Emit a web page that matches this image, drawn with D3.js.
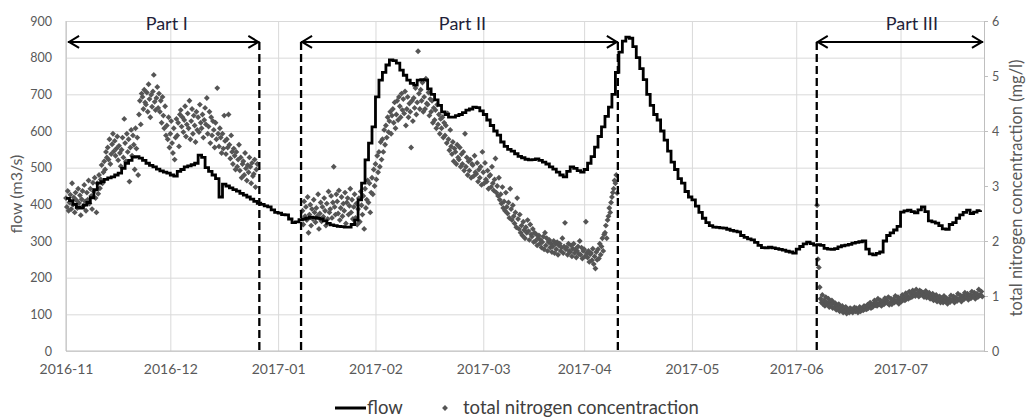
<!DOCTYPE html>
<html><head><meta charset="utf-8">
<script src="https://cdn.jsdelivr.net/npm/d3@7"></script>
<style>
body{margin:0;background:#fff}
text{font-family:Lato,"Open Sans",sans-serif}
</style>
</head><body>
<svg id="chart" width="1029" height="419"></svg>
<script>
// ---- data ----
const monthLabels = ["2016-11","2016-12","2017-01","2017-02","2017-03","2017-04","2017-05","2017-06","2017-07"];
const monthTickDays = [0,30,61,89,120,149,180,210,240];
const flowTicks = [0,100,200,300,400,500,600,700,800,900];
const nitrogenTicks = [0,1,2,3,4,5,6];

// daily flow (m3/s), day 0 = 2016-11-01
const flow = [
416,410,400,392,390,398,405,418,440,458,462,468,472,475,480,485,498,512,520,529,
530,526,520,512,506,502,496,491,488,485,480,477,490,495,502,505,508,512,534,528,
500,490,480,470,420,455,450,445,440,436,430,425,420,414,408,403,400,396,393,385,
378,376,372,371,360,350,352,358,360,362,365,364,362,360,355,348,344,342,340,339,
338,338,345,357,412,458,521,567,611,693,739,760,780,794,792,785,766,752,739,730,
725,739,740,739,715,700,685,670,652,645,638,638,642,645,650,657,660,665,664,655,
645,630,615,600,589,570,558,550,545,538,531,527,523,521,522,524,520,515,510,502,
496,488,480,475,490,502,498,492,488,495,512,530,556,585,611,640,665,700,760,815,
845,856,853,830,800,770,740,700,670,645,630,600,575,545,515,495,470,458,435,420,
412,395,378,362,350,342,338,337,336,335,332,329,327,325,315,310,306,303,296,288,
282,281,283,281,279,277,275,272,270,267,278,285,292,297,293,289,290,288,280,278,
277,279,284,287,289,291,294,296,298,300,278,265,262,266,270,300,315,322,330,340,
379,382,384,380,377,385,393,380,355,352,349,342,333,332,345,350,362,371,378,384,
375,379,383,384];

// total nitrogen concentration (mg/l), 4 samples per day
const nitrogenStep = 0.25;
const nitrogenPart1Start = 0;
const nitrogenPart1 = [
2.78,2.62,2.91,2.55, 2.70,2.84,2.58,3.05, 2.66,2.79,2.52,2.88, 2.74,2.60,2.95,2.69,
2.83,2.47,2.76,2.91, 2.64,3.02,2.72,2.55, 2.88,2.75,3.10,2.68, 2.95,2.82,2.58,3.06,
2.90,3.15,2.78,2.52, 3.05,2.86,3.20,2.96, 3.12,3.38,3.05,3.25, 3.45,3.30,3.62,3.52,
3.70,3.48,3.85,3.40, 3.58,3.76,3.95,3.63, 3.82,3.55,3.68,3.90, 3.47,3.73,3.60,3.36,
3.66,3.88,3.52,4.22, 3.78,3.45,3.95,3.62, 3.85,3.08,3.70,4.02, 3.55,3.92,3.75,3.30,
4.05,3.68,3.88,3.20, 4.30,4.55,4.12,4.68, 4.62,4.40,4.75,4.52, 4.48,4.70,4.35,4.85,
4.58,4.25,4.66,4.44, 4.72,5.02,4.53,4.38, 4.60,4.80,4.42,4.68, 4.35,4.55,4.15,4.62,
4.28,4.05,4.45,3.92, 4.10,3.85,4.25,3.70, 3.95,4.18,3.78,3.60, 4.05,3.48,3.88,4.22,
3.92,4.15,3.72,4.30, 4.38,4.08,4.25,3.98, 4.20,4.45,3.90,4.12, 4.32,4.05,4.55,3.85,
4.18,4.40,3.95,4.28, 4.10,3.80,4.35,4.02, 4.25,3.98,4.48,4.15, 4.05,4.30,3.88,4.20,
4.42,4.12,4.60,3.95, 4.08,4.35,3.78,4.25, 3.92,4.18,4.02,3.70, 4.15,3.85,4.78,3.95,
3.72,4.05,3.88,3.60, 3.95,3.68,4.28,3.82, 3.58,3.85,3.70,4.30, 3.75,3.50,3.92,3.62,
3.40,3.68,3.55,3.30, 3.62,3.35,3.48,3.75, 3.28,3.52,3.15,3.40, 3.45,3.20,3.60,3.32,
3.10,3.38,3.25,3.52, 3.35,3.05,3.42,3.18, 3.22,3.48,2.98,3.30, 3.40];
const nitrogenPart2Start = 68;
const nitrogenPart2 = [
2.55,2.30,2.72,2.45, 2.62,2.38,2.80,2.15, 2.48,2.66,2.28,2.58, 2.40,2.75,2.52,2.34,
2.60,2.45,2.85,2.22, 2.50,2.70,2.36,2.62, 2.44,2.78,2.55,2.28, 2.68,2.40,2.90,2.52,
2.58,2.82,2.42,2.70, 3.35,2.62,2.48,2.85, 2.72,2.50,2.92,2.38, 2.60,2.80,2.45,2.68,
2.55,2.88,2.32,2.70, 2.78,2.48,2.64,2.95, 2.52,2.75,2.40,2.62, 2.85,2.42,2.68,2.30,
2.58,2.78,2.35,2.90, 2.65,2.48,2.82,2.22, 2.95,2.60,2.75,3.10, 2.70,3.05,2.52,2.88,
3.15,2.85,3.30,3.00, 3.40,3.12,3.55,3.25, 3.62,3.35,3.80,3.48, 3.85,3.62,4.02,3.75,
4.10,3.88,4.25,3.98, 4.18,4.35,3.95,4.28, 4.40,4.15,4.52,4.05, 4.30,4.55,4.20,4.62,
4.45,4.25,4.68,4.38, 4.58,4.32,4.72,4.10, 4.40,4.62,4.25,4.50, 4.35,3.70,4.55,4.18,
4.60,4.42,4.78,4.30, 4.52,5.45,4.68,4.40, 4.75,4.55,4.88,4.35, 4.62,4.40,4.95,4.50,
4.48,4.70,4.28,4.58, 4.35,4.55,4.15,4.42, 4.20,4.38,4.05,4.48, 4.12,4.30,3.95,4.22,
4.05,4.25,3.88,4.15, 3.92,4.10,3.78,4.32, 3.85,3.65,4.02,3.72, 3.58,3.80,3.45,3.68,
3.62,3.40,3.75,3.52, 3.48,3.70,3.35,3.58, 3.40,3.62,3.28,3.95, 3.35,3.52,3.20,3.45,
3.28,3.48,3.15,3.40, 3.38,3.18,3.55,3.25, 3.22,3.42,3.08,3.30, 3.15,3.35,3.02,3.62,
3.25,3.05,3.42,3.12, 3.08,3.28,2.95,3.18, 3.20,2.98,3.35,3.05, 2.92,3.12,3.50,2.88,
3.00,2.82,3.15,2.75, 2.85,2.68,2.98,2.60, 2.72,2.55,2.88,2.62, 2.50,2.70,2.42,2.95,
2.58,2.38,2.65,2.45, 2.32,2.52,2.25,2.78, 2.40,2.22,2.48,2.15, 2.28,2.10,2.35,2.20,
2.05,2.25,2.15,2.38, 2.18,2.02,2.30,2.12, 2.08,2.22,1.98,2.15, 2.00,2.12,1.92,2.05,
2.10,1.95,2.02,1.88, 1.98,2.08,1.85,2.15, 1.92,2.05,1.82,1.98, 2.02,1.88,1.95,1.80,
1.90,2.00,1.78,1.95, 1.85,1.98,1.75,1.92, 1.95,1.82,1.88,2.05, 1.78,1.90,2.33,1.85,
1.88,1.75,1.95,1.82, 1.80,1.92,1.72,1.86, 1.95,1.78,1.85,1.70, 1.82,1.90,1.76,2.00,
1.75,1.88,1.68,1.82, 1.85,1.72,2.35,1.78, 1.70,1.82,1.62,1.76, 1.78,1.65,1.86,1.58,
1.72,1.50,1.80,1.66, 1.85,1.68,1.95,1.75, 1.90,2.05,1.82,2.12, 2.15,2.28,2.05,2.38,
2.45,2.60,2.52,2.70, 2.80,2.88,2.95,3.10, 3.05,3.20,2.87];
const nitrogenPart3Start = 216;
const nitrogenPart3 = [
2.65,1.67,1.52,1.16, 0.95,0.88,1.02,0.85, 0.92,0.82,0.98,0.88, 0.86,0.95,0.80,0.90,
0.84,0.92,0.78,0.88, 0.80,0.87,0.75,0.83, 0.78,0.85,0.72,0.80, 0.75,0.82,0.70,0.78,
0.72,0.80,0.68,0.76, 0.74,0.70,0.78,0.72, 0.76,0.70,0.73,0.79, 0.72,0.78,0.74,0.70,
0.75,0.80,0.72,0.77, 0.78,0.74,0.82,0.76, 0.80,0.76,0.84,0.78, 0.82,0.88,0.78,0.85,
0.80,0.86,0.92,0.83, 0.88,0.82,0.95,0.86, 0.85,0.92,0.82,0.89, 0.90,0.85,0.96,0.88,
0.92,0.87,0.98,0.84, 0.88,0.95,0.85,0.92, 0.94,0.88,1.00,0.90, 0.92,0.98,0.86,0.95,
0.96,0.90,1.02,0.93, 0.98,0.92,1.05,0.95, 1.00,0.95,1.08,0.97, 1.04,0.98,1.10,1.01,
1.06,1.00,1.12,1.03, 1.05,0.99,1.10,1.02, 1.08,1.02,1.06,0.98, 1.03,1.09,0.97,1.05,
1.00,1.06,0.95,1.02, 0.97,1.04,0.92,1.00, 0.95,1.02,0.90,0.98, 0.92,0.99,0.88,0.96,
0.94,0.88,1.00,0.91, 0.90,0.96,0.86,0.93, 0.95,0.89,1.01,0.92, 0.93,0.99,0.88,0.96,
0.97,0.91,1.04,0.94, 0.95,1.01,0.90,0.98, 1.00,0.94,1.06,0.97, 0.98,1.04,0.93,1.01,
1.02,0.96,1.08,0.99, 1.00,1.06,0.95,1.03, 1.04,0.98,1.12,1.01, 1.02,1.08,0.99];

// analysis periods (days)
const partLabels = ["Part I","Part II","Part III"];
const partStartDays = [0.6, 67.6, 215.9];
const partEndDays = [55.6, 158.7, 263.7];
const partArrowFlow = 843;

const legendLabels = ["flow","total nitrogen concentraction"];

// ---- chart ----
const svg = d3.select("#chart");
const L = 66, R = 984, T = 21, B = 351;
const x = d3.scaleLinear().domain([0, 264]).range([L, R]);
const yF = d3.scaleLinear().domain([0, 900]).range([B, T]);
const yN = d3.scaleLinear().domain([0, 6]).range([B, T]);
const grid = "#d9d9d9", axisGray = "#bfbfbf", labelGray = "#595959";

// horizontal grid
svg.append("g").attr("transform", `translate(${L},0)`)
  .call(d3.axisLeft(yF).tickValues(flowTicks).tickSize(-(R - L)).tickFormat(""))
  .call(g => g.select(".domain").remove())
  .call(g => g.selectAll("line").attr("stroke", grid).attr("stroke-width", 1));
// vertical grid
svg.append("g").attr("transform", `translate(0,${B})`)
  .call(d3.axisBottom(x).tickValues(monthTickDays).tickSize(-(B - T)).tickFormat(""))
  .call(g => g.select(".domain").remove())
  .call(g => g.selectAll("line").attr("stroke", grid).attr("stroke-width", 1));

// axis lines
svg.append("line").attr("x1", L).attr("x2", L).attr("y1", T).attr("y2", B).attr("stroke", axisGray);
svg.append("line").attr("x1", L).attr("x2", R).attr("y1", B).attr("y2", B).attr("stroke", axisGray);

// left axis labels
svg.append("g").attr("transform", `translate(${L},0)`)
  .call(d3.axisLeft(yF).tickValues(flowTicks).tickSize(0).tickPadding(14))
  .call(g => g.select(".domain").remove())
  .call(g => g.selectAll("text").attr("fill", labelGray).style("font-size", "12.5px").style("font-family", "Lato"));

// bottom labels
svg.append("g").attr("transform", `translate(0,${B})`)
  .call(d3.axisBottom(x).tickValues(monthTickDays).tickFormat((d, i) => monthLabels[i]).tickSize(0).tickPadding(13))
  .call(g => g.select(".domain").remove())
  .call(g => g.selectAll("text").attr("fill", labelGray).style("font-size", "14px").style("font-family", "Lato"));

// right axis
svg.append("g").attr("transform", `translate(${R},0)`)
  .call(d3.axisRight(yN).tickValues(nitrogenTicks).tickFormat(d3.format("d")).tickSize(4).tickPadding(4))
  .call(g => g.select(".domain").attr("stroke", axisGray))
  .call(g => g.selectAll("line").attr("stroke", axisGray))
  .call(g => g.selectAll("text").attr("fill", labelGray).style("font-size", "12.5px").style("font-family", "Lato"));

// axis titles
svg.append("text").attr("transform", `translate(22,${(T + B) / 2 + 8}) rotate(-90)`)
  .attr("text-anchor", "middle").attr("fill", labelGray).style("font-size", "16px").text("flow (m3/s)");
svg.append("text").attr("transform", `translate(1022,${(T + B) / 2 + 2}) rotate(-90)`)
  .attr("text-anchor", "middle").attr("fill", labelGray).style("font-size", "16.5px")
  .text("total nitrogen concentraction (mg/l)");

// nitrogen scatter
const nPoints = [];
[[nitrogenPart1Start, nitrogenPart1], [nitrogenPart2Start, nitrogenPart2], [nitrogenPart3Start, nitrogenPart3]]
  .forEach(([s, arr]) => arr.forEach((v, i) => nPoints.push([s + i * nitrogenStep, v])));
const diamond = d3.symbol().type(d3.symbolDiamond2 || d3.symbolDiamond).size(22);
svg.append("g").selectAll("path").data(nPoints).join("path")
  .attr("d", diamond)
  .attr("transform", d => `translate(${x(d[0])},${yN(d[1])})`)
  .attr("fill", "#555555");

// flow line
svg.append("path").datum(flow)
  .attr("fill", "none").attr("stroke", "#000").attr("stroke-width", 2.8)
  .attr("stroke-linejoin", "miter")
  .attr("d", d3.line().x((d, i) => x(i)).y(d => yF(d)).curve(d3.curveStepAfter));

// parts: dashed boundaries, arrows, labels
const ay = yF(partArrowFlow);
const dashDays = [partEndDays[0], partStartDays[1], partEndDays[1], partStartDays[2]];
svg.append("g").selectAll("line").data(dashDays).join("line")
  .attr("x1", d => x(d)).attr("x2", d => x(d)).attr("y1", ay).attr("y2", B)
  .attr("stroke", "#000").attr("stroke-width", 2.3).attr("stroke-dasharray", "8,4");
const pg = svg.append("g");
partLabels.forEach((lab, i) => {
  const x1 = x(partStartDays[i]), x2 = x(partEndDays[i]);
  pg.append("line").attr("x1", x1).attr("x2", x2).attr("y1", ay).attr("y2", ay)
    .attr("stroke", "#000").attr("stroke-width", 2);
  pg.append("path").attr("d", `M${x1 + 11},${ay - 6}L${x1 + 1},${ay}L${x1 + 11},${ay + 6}`)
    .attr("fill", "none").attr("stroke", "#000").attr("stroke-width", 2);
  pg.append("path").attr("d", `M${x2 - 11},${ay - 6}L${x2 - 1},${ay}L${x2 - 11},${ay + 6}`)
    .attr("fill", "none").attr("stroke", "#000").attr("stroke-width", 2);
  pg.append("text").attr("x", (x1 + x2) / 2 + 3 + (i === 2 ? 9 : 0)).attr("y", 29.5).attr("text-anchor", "middle")
    .attr("fill", "#1f1f3a").style("font-size", "18px").text(lab);
});

// legend
const ly = 408;
svg.append("line").attr("x1", 335).attr("x2", 366).attr("y1", ly).attr("y2", ly)
  .attr("stroke", "#000").attr("stroke-width", 3);
svg.append("text").attr("x", 367).attr("y", ly + 6).attr("fill", "#404040").style("font-size", "18.5px").text(legendLabels[0]);
svg.append("path").attr("d", diamond).attr("transform", `translate(445,${ly})`).attr("fill", "#555555");
svg.append("text").attr("x", 463).attr("y", ly + 6).attr("fill", "#404040").style("font-size", "18.5px").text(legendLabels[1]);
</script>
</body></html>
